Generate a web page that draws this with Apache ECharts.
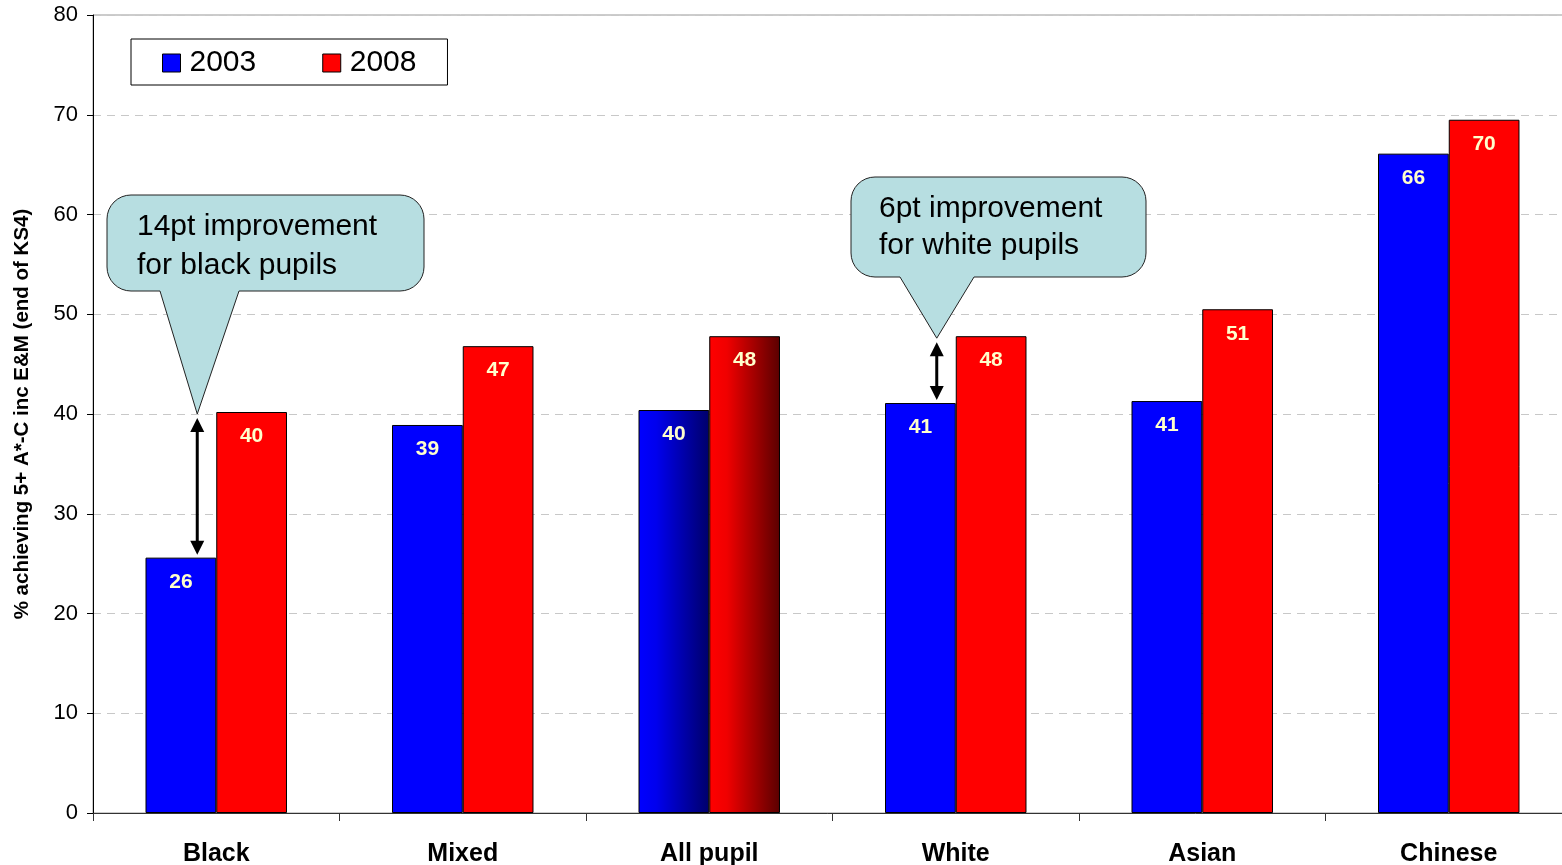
<!DOCTYPE html>
<html>
<head>
<meta charset="utf-8">
<script src="https://cdn.jsdelivr.net/npm/echarts@6/dist/echarts.min.js"></script>
<style>
  html, body { margin: 0; padding: 0; background: #fff; }
  #main { width: 1562px; height: 865px; }
</style>
</head>
<body>
<div id="main"></div>
<script>
// data
var categories = ['Black', 'Mixed', 'All pupil', 'White', 'Asian', 'Chinese'];
var values2003 = [25.6, 38.9, 40.4, 41.1, 41.3, 66.1];
var values2008 = [40.2, 46.8, 47.8, 47.8, 50.5, 69.5];
var yMin = 0, yMax = 80, yStep = 10;

// notes drawn over the chart: [category index, text]
var notes = [
    [0, '14pt improvement\nfor black pupils'],
    [3, '6pt improvement\nfor white pupils']
];

var font = '"Liberation Sans", Arial, sans-serif';

// the "All pupil" bars get a horizontal shading
function shade(c1, c2, c3) {
    return new echarts.graphic.LinearGradient(0, 0, 1, 0, [
        {offset: 0, color: c1}, {offset: 0.25, color: c2}, {offset: 1, color: c3}
    ]);
}

function buildData(vals, shaded) {
    return vals.map(function (v, i) {
        if (categories[i] === 'All pupil') {
            return {value: v, itemStyle: {color: shaded}};
        }
        return v;
    });
}

var labelOpt = {
    show: true,
    position: 'insideTop',
    distance: 14,
    color: '#FFFFCC',
    fontFamily: font,
    fontWeight: 'bold',
    fontSize: 21,
    formatter: function (p) { return Math.round(p.value); }
};

var chart = echarts.init(document.getElementById('main'));

var option = {
    animation: false,
    backgroundColor: '#fff',
    grid: {
        left: 93, top: 15, right: -10, bottom: 52,
        outerBoundsMode: 'none',
        show: true, borderColor: '#999', borderWidth: 1
    },
    legend: {
        left: 131, top: 39,
        padding: [9, 31, 7, 31],
        itemGap: 66,
        itemWidth: 18, itemHeight: 18,
        icon: 'rect',
        borderColor: '#000', borderWidth: 1,
        backgroundColor: '#fff',
        textStyle: {fontFamily: font, fontSize: 30, color: '#000', padding: [0, 0, 0, 4]},
        itemStyle: {borderColor: '#000', borderWidth: 1},
        data: ['2003', '2008']
    },
    xAxis: {
        type: 'category',
        data: categories,
        axisLine: {lineStyle: {color: '#333', width: 1}},
        axisTick: {show: true, length: 8, lineStyle: {color: '#333'}},
        axisLabel: {
            fontFamily: font, fontWeight: 'bold', fontSize: 25, color: '#000', margin: 29
        }
    },
    yAxis: {
        type: 'value',
        min: yMin, max: yMax, interval: yStep,
        name: '% achieving 5+ A*-C inc E&M (end of KS4)',
        nameLocation: 'middle',
        nameGap: 60,
        nameTextStyle: {fontFamily: font, fontWeight: 'bold', fontSize: 20.5, color: '#000'},
        axisLine: {show: true, lineStyle: {color: '#000', width: 1}},
        axisTick: {show: true, length: 6, lineStyle: {color: '#000'}},
        axisLabel: {fontFamily: font, fontSize: 22, color: '#000', margin: 15},
        splitLine: {lineStyle: {color: '#c8c8c8', type: [8, 6], width: 1}}
    },
    series: [
        {
            name: '2003',
            type: 'bar',
            barGap: 0,
            barCategoryGap: '42.6%',
            itemStyle: {color: '#0000FF', borderColor: '#000', borderWidth: 1},
            label: labelOpt,
            data: buildData(values2003, shade('#0000ff', '#0000ee', '#00006a'))
        },
        {
            name: '2008',
            type: 'bar',
            itemStyle: {color: '#FF0000', borderColor: '#000', borderWidth: 1},
            label: labelOpt,
            data: buildData(values2008, shade('#ff0000', '#f00000', '#5a0000'))
        }
    ]
};

chart.setOption(option);

// callout bubble outline: rounded box plus a tail down to (tx, ty)
function bubble(x0, y0, x1, y1, r, b0, b1, tx, ty) {
    var pts = [];
    function arc(cx, cy, a0, a1) {
        for (var k = 0; k <= 8; k++) {
            var a = a0 + (a1 - a0) * k / 8;
            pts.push([cx + r * Math.cos(a), cy + r * Math.sin(a)]);
        }
    }
    arc(x0 + r, y0 + r, Math.PI, Math.PI * 1.5);
    arc(x1 - r, y0 + r, Math.PI * 1.5, Math.PI * 2);
    arc(x1 - r, y1 - r, 0, Math.PI * 0.5);
    pts.push([b1, y1]);
    pts.push([tx, ty]);
    pts.push([b0, y1]);
    arc(x0 + r, y1 - r, Math.PI * 0.5, Math.PI);
    return pts;
}

function arrow(x, yTop, yBot) {
    var h = 14, w = 7;
    return [
        {type: 'line', shape: {x1: x, y1: yTop + h - 2, x2: x, y2: yBot - h + 2},
            style: {stroke: '#000', lineWidth: 3}, z: 20},
        {type: 'polygon', shape: {points: [[x, yTop], [x - w, yTop + h], [x + w, yTop + h]]},
            style: {fill: '#000'}, z: 20},
        {type: 'polygon', shape: {points: [[x, yBot], [x - w, yBot - h], [x + w, yBot - h]]},
            style: {fill: '#000'}, z: 20}
    ];
}

// box sizes for the two notes (annotation layout only)
var boxes = [
    {x0: 107, y0: 195, x1: 424, y1: 291, b0: 160, b1: 239, tx: 137, ty: 227, lh: 39},
    {x0: 851, y0: 177, x1: 1146, y1: 277, b0: 900, b1: 974, tx: 879, ty: 209, lh: 37}
];

var elements = [];
notes.forEach(function (n, k) {
    var i = n[0];
    var c = chart.convertToPixel({seriesIndex: 0}, [i, values2003[i]]);
    var top = chart.convertToPixel({seriesIndex: 1}, [i, values2008[i]]);
    var ax = c[0] - 19;
    var yTop = top[1] + 6;
    var yBot = c[1] - 3;
    elements = elements.concat(arrow(ax, yTop, yBot));
    var b = boxes[k];
    elements.push({
        type: 'polygon', z: 30,
        shape: {points: bubble(b.x0, b.y0, b.x1, b.y1, 24, b.b0, b.b1, ax, yTop - 4)},
        style: {fill: '#B7DEE1', stroke: '#222', lineWidth: 1}
    });
    n[1].split('\n').forEach(function (line, j) {
        elements.push({
            type: 'text', z: 31,
            x: b.tx, y: b.ty + j * b.lh,
            style: {text: line, fill: '#000', font: '30px ' + font, textVerticalAlign: 'middle'}
        });
    });
});

chart.setOption({graphic: {elements: elements}});
</script>
</body>
</html>
